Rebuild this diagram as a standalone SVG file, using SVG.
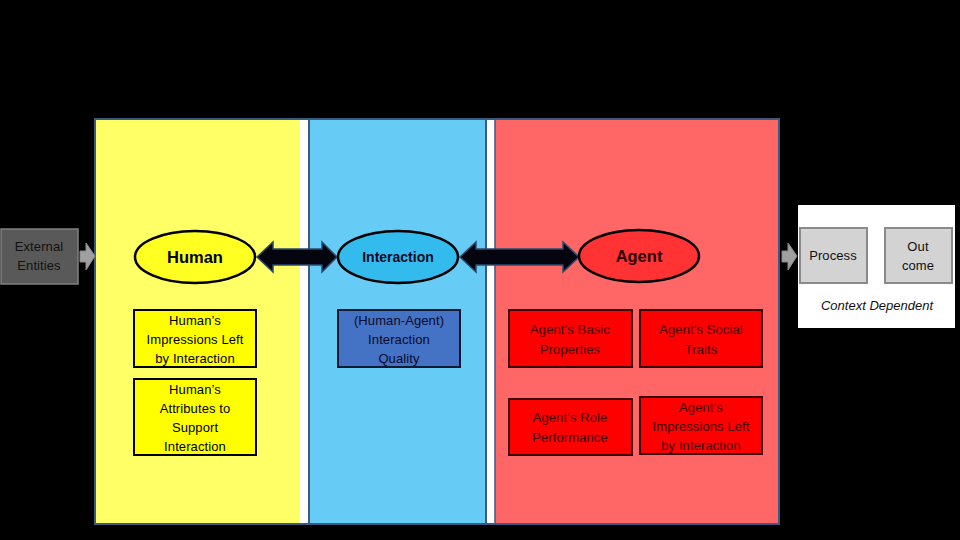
<svg xmlns="http://www.w3.org/2000/svg" width="960" height="540" viewBox="0 0 960 540">
<defs>
<style>
.t{font-family:"Liberation Sans","Open Sans",sans-serif;font-size:13px;text-anchor:middle;letter-spacing:0.1px}
.lbl{font-family:"Liberation Sans","Open Sans",sans-serif;font-weight:bold;text-anchor:middle}
.ybox{fill:#ffff00;stroke:#000;stroke-width:2}
.rbox{fill:#ff0000;stroke:#3a0000;stroke-width:2}
.rt{fill:#3a0000}
.dbl{fill:#050510;stroke:#2c4a6e;stroke-width:1.5}
.garr{fill:#a0a0a0;stroke:#8a8a8a;stroke-width:1}
.gbox{fill:#d3d3d3;stroke:#8a8a8a;stroke-width:2}
</style>
</defs>
<rect width="960" height="540" fill="#000"/>
<g id="panels">
<rect x="95" y="119" width="684" height="405" fill="#ffffff" stroke="#3b5a80" stroke-width="2"/>
<rect x="96" y="120" width="204" height="403" fill="#ffff66"/>
<rect x="309" y="120" width="177" height="403" fill="#66ccf5"/>
<line x1="309" y1="120" x2="309" y2="523" stroke="#3b5a80" stroke-width="2"/>
<line x1="486" y1="120" x2="486" y2="523" stroke="#3b5a80" stroke-width="2"/>
<rect x="495" y="120" width="283" height="403" fill="#ff6666"/>
<line x1="495" y1="120" x2="495" y2="523" stroke="#3b5a80" stroke-width="1.5"/>
</g>
<g id="connectors">
<polygon class="dbl" points="257,257 273,242 273,249 322,249 322,242 337,257 322,272 322,265 273,265 273,272"/>
<polygon class="dbl" points="460,257 476,242 476,249 563,249 563,242 579,257 563,272 563,265 476,265 476,272"/>
<polygon class="garr" points="80,251 86,251 86,243 95,256 86,270 86,262 80,262"/>
<polygon class="garr" points="782,251 788,251 788,243 797,256 788,270 788,262 782,262"/>
<polygon class="garr" points="867,250 875,250 875,243 885,256 875,269 875,262 867,262"/>
</g>
<g id="external">
<rect x="1" y="229" width="77" height="55" fill="#595959" stroke="#808080" stroke-width="1.5"/>
<text class="t" x="39" y="251" fill="#111">External</text>
<text class="t" x="39" y="270" fill="#111">Entities</text>
</g>
<g id="human">
<ellipse cx="195" cy="257" rx="60" ry="26" fill="#ffff22" stroke="#000" stroke-width="2.5"/>
<text class="lbl" x="195" y="263" font-size="16.5" fill="#000">Human</text>
</g>
<g id="interaction">
<ellipse cx="398" cy="257" rx="60" ry="26" fill="#33bbee" stroke="#000" stroke-width="2.5"/>
<text class="lbl" x="398" y="262" font-size="14" fill="#0a0a2a">Interaction</text>
</g>
<g id="agent">
<ellipse cx="639" cy="256" rx="60" ry="26" fill="#ff3333" stroke="#000" stroke-width="2.5"/>
<text class="lbl" x="639" y="262" font-size="16.5" fill="#2a0000">Agent</text>
</g>
<g id="human-impressions">
<rect class="ybox" x="134" y="310" width="122" height="57"/>
<text class="t" x="195" y="325">Human’s</text>
<text class="t" x="195" y="344">Impressions Left</text>
<text class="t" x="195" y="363">by Interaction</text>
</g>
<g id="human-attributes">
<rect class="ybox" x="134" y="379" width="122" height="76"/>
<text class="t" x="195" y="394">Human’s</text>
<text class="t" x="195" y="413">Attributes to</text>
<text class="t" x="195" y="432">Support</text>
<text class="t" x="195" y="451">Interaction</text>
</g>
<g id="interaction-quality">
<rect x="338" y="310" width="122" height="57" fill="#4472c4" stroke="#101a30" stroke-width="2"/>
<text class="t" x="399" y="325" fill="#0a0a2a">(Human-Agent)</text>
<text class="t" x="399" y="344" fill="#0a0a2a">Interaction</text>
<text class="t" x="399" y="363" fill="#0a0a2a">Quality</text>
</g>
<g id="agent-basic">
<rect class="rbox" x="509" y="310" width="123" height="57"/>
<text class="t rt" x="570" y="334">Agent’s Basic</text>
<text class="t rt" x="570" y="354">Properties</text>
</g>
<g id="agent-social">
<rect class="rbox" x="640" y="310" width="122" height="57"/>
<text class="t rt" x="701" y="334">Agent’s Social</text>
<text class="t rt" x="701" y="354">Traits</text>
</g>
<g id="agent-role">
<rect class="rbox" x="509" y="399" width="123" height="56"/>
<text class="t rt" x="570" y="422">Agent’s Role</text>
<text class="t rt" x="570" y="442">Performance</text>
</g>
<g id="agent-impressions">
<rect class="rbox" x="640" y="397" width="122" height="57"/>
<text class="t rt" x="701" y="412">Agent’s</text>
<text class="t rt" x="701" y="431">Impressions Left</text>
<text class="t rt" x="701" y="450">by Interaction</text>
</g>
<g id="context">
<rect x="798" y="205" width="157" height="123" fill="#ffffff"/>
<text x="877" y="310" font-family="Liberation Sans,Open Sans,sans-serif" font-size="13" font-style="italic" text-anchor="middle" fill="#111">Context Dependent</text>
</g>
<g id="process">
<rect class="gbox" x="800" y="228" width="67" height="55"/>
<text class="t" x="833" y="260" fill="#111">Process</text>
</g>
<g id="outcome">
<rect class="gbox" x="885" y="228" width="67" height="55"/>
<text class="t" x="918" y="251" fill="#111">Out</text>
<text class="t" x="918" y="270" fill="#111">come</text>
</g>
</svg>
